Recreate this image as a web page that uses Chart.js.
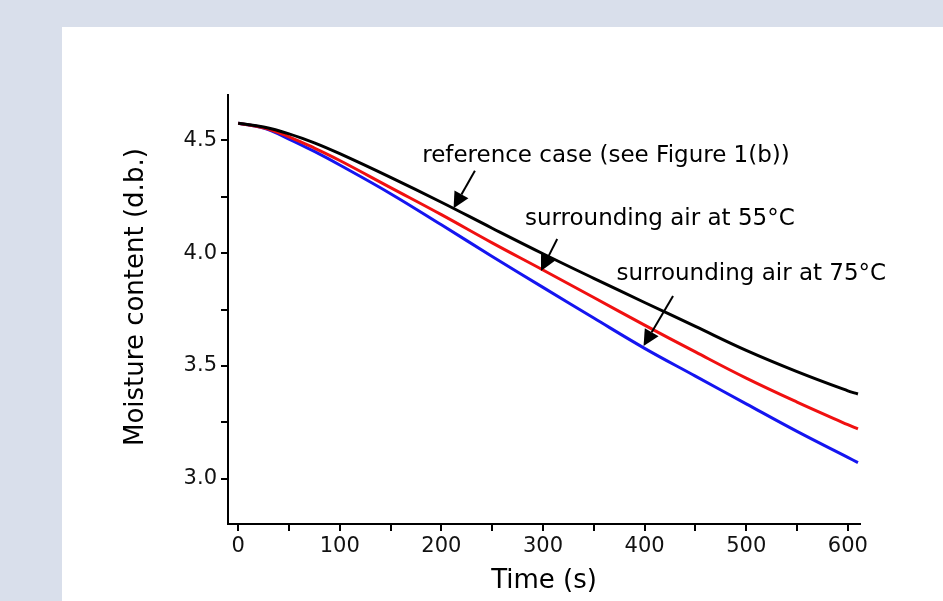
<!DOCTYPE html>
<html>
<head>
<meta charset="utf-8">
<script src="https://cdn.jsdelivr.net/npm/chart.js@4"></script>
<style>
  html, body { margin: 0; padding: 0; background: #d9dfeb; }
  #panel { position: absolute; left: 62px; top: 27px; width: 881px; height: 574px; background: #fff; }
  #chart { position: absolute; left: 0; top: 0; }
</style>
</head>
<body>
<div id="panel"></div>
<canvas id="chart" width="943" height="601"></canvas>
<script>
// time (s)
const times = [0, 25, 50, 75, 100, 150, 200, 250, 300, 350, 400, 450, 500, 550, 600, 610];

// moisture content (d.b.)
const referenceCase = [4.575, 4.558, 4.528, 4.488, 4.44, 4.335, 4.225, 4.11, 3.997, 3.888, 3.781, 3.675, 3.569, 3.475, 3.39, 3.376];
const air55 = [4.575, 4.555, 4.515, 4.465, 4.41, 4.29, 4.17, 4.045, 3.925, 3.803, 3.681, 3.562, 3.446, 3.34, 3.24, 3.221];
const air75 = [4.575, 4.553, 4.505, 4.45, 4.39, 4.263, 4.125, 3.985, 3.848, 3.712, 3.578, 3.455, 3.332, 3.21, 3.095, 3.072];

// annotation labels, placed in data units
const noteTexts = ['reference case (see Figure 1(b))', 'surrounding air at 55°C', 'surrounding air at 75°C'];
const noteAt = [[362, 4.429], [415, 4.15], [505, 3.907]];
const arrowFrom = [[233, 4.365], [314, 4.062], [428, 3.81]];
const arrowTo = [[212, 4.198], [298, 3.92], [399, 3.588]];

const FONT = '"DejaVu Sans", sans-serif';

function toPoints(ys) {
  return times.map((t, i) => ({ x: t, y: ys[i] }));
}

function lineSet(label, ys, color) {
  return {
    label: label,
    data: toPoints(ys),
    borderColor: color,
    backgroundColor: color,
    borderWidth: 3,
    pointRadius: 0,
    tension: 0.4
  };
}

// draws the text labels and arrows
const notesPlugin = {
  id: 'notes',
  afterDatasetsDraw(chart) {
    const ctx = chart.ctx;
    const xs = chart.scales.x, ys = chart.scales.y;
    ctx.save();
    ctx.font = '23px ' + FONT;
    ctx.fillStyle = '#000';
    ctx.textAlign = 'center';
    ctx.textBaseline = 'middle';
    noteTexts.forEach((txt, i) => {
      ctx.fillText(txt, xs.getPixelForValue(noteAt[i][0]), ys.getPixelForValue(noteAt[i][1]));

      const x1 = xs.getPixelForValue(arrowFrom[i][0]), y1 = ys.getPixelForValue(arrowFrom[i][1]);
      const x2 = xs.getPixelForValue(arrowTo[i][0]), y2 = ys.getPixelForValue(arrowTo[i][1]);
      const ang = Math.atan2(y2 - y1, x2 - x1);
      const headLen = 16, headW = 8;
      const bx = x2 - headLen * Math.cos(ang), by = y2 - headLen * Math.sin(ang);

      ctx.strokeStyle = '#000';
      ctx.lineWidth = 2;
      ctx.beginPath();
      ctx.moveTo(x1, y1);
      ctx.lineTo(bx, by);
      ctx.stroke();

      ctx.beginPath();
      ctx.moveTo(x2, y2);
      ctx.lineTo(bx + headW * Math.sin(ang), by - headW * Math.cos(ang));
      ctx.lineTo(bx - headW * Math.sin(ang), by + headW * Math.cos(ang));
      ctx.closePath();
      ctx.fill();
    });
    ctx.restore();
  }
};

function isMajor(v, step) {
  return Math.abs(v / step - Math.round(v / step)) < 1e-6;
}

new Chart(document.getElementById('chart'), {
  type: 'line',
  data: {
    datasets: [
      lineSet('reference case', referenceCase, '#000000'),
      lineSet('surrounding air at 55°C', air55, '#f01010'),
      lineSet('surrounding air at 75°C', air75, '#1515f0')
    ]
  },
  options: {
    responsive: false,
    animation: false,
    layout: { padding: { left: 121, top: 95, right: 83, bottom: 0 } },
    plugins: {
      legend: { display: false },
      tooltip: { enabled: false }
    },
    scales: {
      x: {
        type: 'linear',
        min: -10,
        max: 612,
        afterFit(scale) { scale.height = 77; },
        border: { display: true, color: '#000', width: 2 },
        grid: { drawOnChartArea: false, drawTicks: true, tickLength: 7, color: '#000', lineWidth: 2 },
        ticks: {
          stepSize: 50,
          includeBounds: false,
          maxRotation: 0,
          autoSkip: false,
          padding: 3,
          color: '#111',
          font: { family: FONT, size: 21 },
          callback: v => isMajor(v, 100) ? String(v) : ''
        },
        title: {
          display: true,
          text: 'Time (s)',
          color: '#000',
          font: { family: FONT, size: 26 },
          padding: { top: 0, bottom: 4 }
        }
      },
      y: {
        type: 'linear',
        min: 2.8,
        max: 4.7,
        afterFit(scale) { scale.width = 107; },
        border: { display: true, color: '#000', width: 2 },
        grid: { drawOnChartArea: false, drawTicks: true, tickLength: 7, color: '#000', lineWidth: 2 },
        ticks: {
          stepSize: 0.25,
          includeBounds: false,
          autoSkip: false,
          padding: 4,
          color: '#111',
          font: { family: FONT, size: 21 },
          callback: v => isMajor(v, 0.5) ? v.toFixed(1) : ''
        },
        title: {
          display: true,
          // leading spaces nudge the centred title upward, as in the original figure
          text: '\u00a0\u00a0\u00a0Moisture content (d.b.)',
          color: '#000',
          font: { family: FONT, size: 26 },
          padding: { top: 0, bottom: 0 }
        }
      }
    }
  },
  plugins: [notesPlugin]
});
</script>
</body>
</html>
